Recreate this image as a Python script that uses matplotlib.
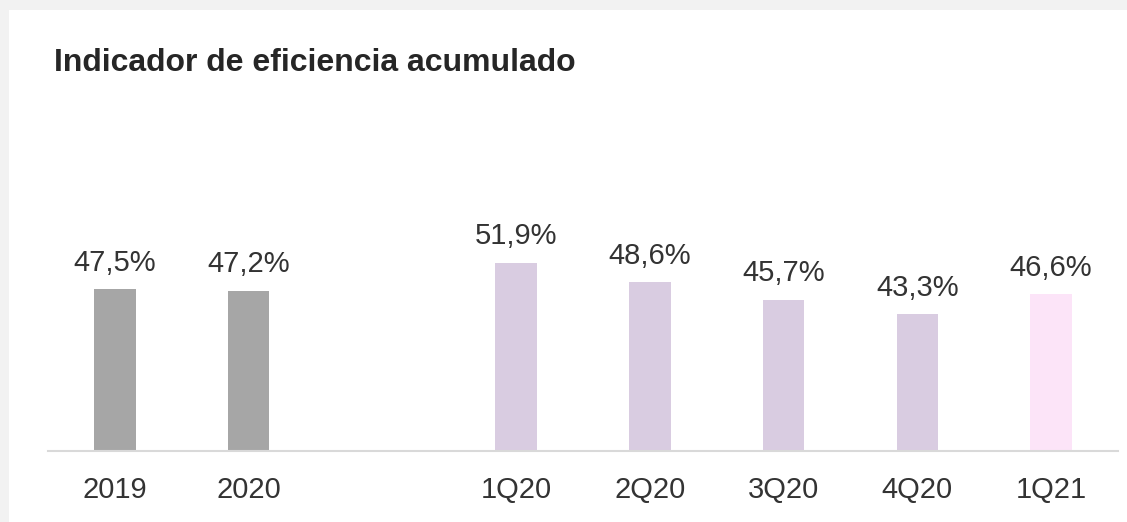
import matplotlib.pyplot as plt
from matplotlib.patches import Rectangle
import numpy as np

plt.rcParams['font.family'] = ['Liberation Sans', 'DejaVu Sans']

# data -------------------------------------------------------------------------
years = ['2019', '2020']
year_vals = [47.5, 47.2]
quarters = ['1Q20', '2Q20', '3Q20', '4Q20', '1Q21']
quarter_vals = [51.9, 48.6, 45.7, 43.3, 46.6]

title = 'Indicador de eficiencia acumulado'

# colours
grey_bar = '#a6a6a6'
lilac_bar = '#d9cce1'
pink_bar = '#fce4f8'
txt = '#333333'

fig = plt.figure(figsize=(11.27, 5.22), dpi=100)
fig.patch.set_facecolor('#f2f2f2')
# white card behind everything
fig.patches.append(Rectangle((9 / 1127, 0), 1, (522 - 10) / 522,
                             transform=fig.transFigure, facecolor='white',
                             edgecolor='none', zorder=-5))

ax = fig.add_axes([48 / 1127, (522 - 451) / 522, (1118 - 48) / 1127, (451 - 130) / 522])
ax.set_facecolor('none')
ax.set_zorder(2)

# annual bars first, then one empty slot, then the quarters
x_year = np.arange(len(years))
x_quarter = np.arange(len(quarters)) + len(years) + 1
q_colors = [lilac_bar] * (len(quarters) - 1) + [pink_bar]

ax.bar(x_year, year_vals, width=0.31, color=grey_bar, zorder=2)
ax.bar(x_quarter, quarter_vals, width=0.31, color=q_colors, zorder=2)

for x, v in zip(list(x_year) + list(x_quarter), year_vals + quarter_vals):
    ax.annotate(f'{v:.1f}%'.replace('.', ','), (x, v), xytext=(0, 9),
                textcoords='offset points', ha='center', va='bottom',
                fontsize=21, color=txt)

ax.set_xlim(-0.5, len(years) + len(quarters) + 0.5)
ax.set_ylim(20.3, 74.2)
ax.set_xticks(list(x_year) + list(x_quarter))
ax.set_xticklabels(years + quarters, fontsize=21, color=txt)
ax.tick_params(axis='x', length=0, pad=18)
ax.set_yticks([])
for s in ['top', 'left', 'right']:
    ax.spines[s].set_visible(False)
ax.spines['bottom'].set_color('#d9d9d9')
ax.spines['bottom'].set_linewidth(1.5)

fig.text(54 / 1127, 1 - 71 / 522, title, fontsize=23, fontweight='bold',
         color='#262626', ha='left', va='baseline')

fig.savefig('out.png', dpi=100, facecolor=fig.get_facecolor())
